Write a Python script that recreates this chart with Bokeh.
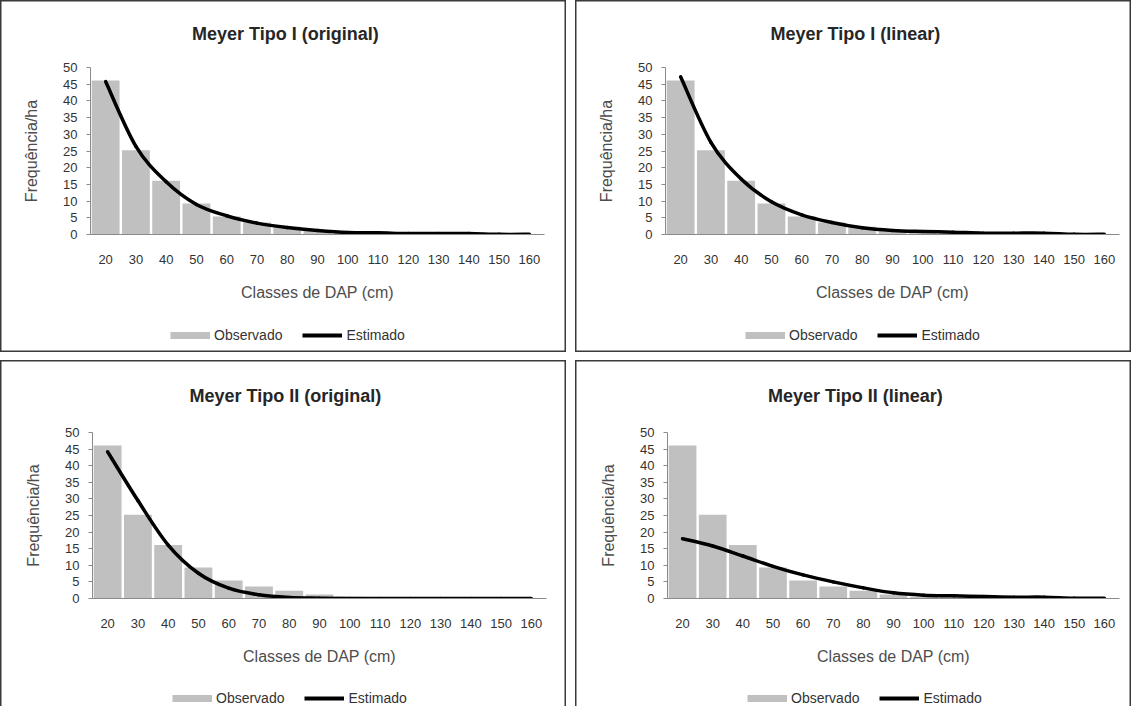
import numpy as np
from bokeh.plotting import figure
from bokeh.models import (FactorRange, Range1d, SingleIntervalTicker, Legend,
                          LegendItem)
from bokeh.layouts import column, row
from bokeh.embed import file_html
from bokeh.resources import INLINE

# ---------------- data ----------------
classes = ["20", "30", "40", "50", "60", "70", "80", "90", "100",
           "110", "120", "130", "140", "150", "160"]
observado = [46.1, 25.2, 16.1, 9.3, 5.4, 3.6, 2.3, 1.2, 0.5,
             0.4, 0.2, 0.2, 0.2, 0.1, 0.1]
est_tipo1_original = [45.8, 26.4, 15.8, 9.0, 5.6, 3.4, 2.1, 1.2, 0.6,
                      0.5, 0.3, 0.3, 0.3, 0.05, 0.05]
est_tipo1_linear = [47.2, 27.6, 16.6, 9.8, 5.9, 3.6, 2.0, 1.2, 0.9,
                    0.7, 0.4, 0.4, 0.4, 0.05, 0.05]
est_tipo2_original = [44.2, 29.5, 16.1, 7.6, 3.1, 1.1, 0.3, 0.1, 0.0,
                      0.0, 0.0, 0.0, 0.0, 0.0, 0.0]
est_tipo2_linear = [18.0, 15.8, 12.8, 9.7, 7.1, 5.0, 3.2, 1.7, 1.0,
                    0.8, 0.6, 0.4, 0.4, 0.1, 0.1]
titles = ["Meyer  Tipo I (original)", "Meyer  Tipo I (linear)",
          "Meyer  Tipo II (original)", "Meyer  Tipo II (linear)"]
y_ticks_interval = 5
y_max = 50
x_title = "Classes de DAP (cm)"
y_title = "Frequência/ha"
legend_labels = ["Observado", "Estimado"]

FONT = "Liberation Sans"
BAR = "#c0c0c0"
AXIS = "#8a8a8a"
TXT = "#333333"
TITLE_PX = 18

# approximate advance widths of Arial/Liberation Sans Bold (per 1000 em)
BOLD_W = {" ": 278, "(": 333, ")": 333, "I": 278, "M": 833, "T": 611, "a": 556,
          "e": 556, "g": 611, "i": 278, "l": 278, "n": 611, "o": 611, "p": 611,
          "r": 389, "y": 556}


def text_width(s, px):
    return sum(BOLD_W.get(c, 600) for c in " ".join(s.split())) / 1000 * px


def smooth_segments(vals):
    """Bezier segments (Catmull-Rom style, like a spreadsheet's smoothed line)."""
    n = len(vals)
    xs = [i + 0.5 for i in range(n)]
    seg = dict(x0=[], y0=[], x1=[], y1=[], cx0=[], cy0=[], cx1=[], cy1=[])
    for i in range(n - 1):
        a, b = max(i - 1, 0), min(i + 2, n - 1)
        seg["x0"].append(xs[i]); seg["y0"].append(vals[i])
        seg["x1"].append(xs[i + 1]); seg["y1"].append(vals[i + 1])
        seg["cx0"].append(xs[i] + (xs[i + 1] - xs[a]) / 6)
        seg["cy0"].append(vals[i] + (vals[i + 1] - vals[a]) / 6)
        seg["cx1"].append(xs[i + 1] - (xs[b] - xs[i]) / 6)
        seg["cy1"].append(vals[i + 1] - (vals[b] - vals[i]) / 6)
    return seg


def panel(title, est, W, H, L, FW, T, FH, legend_gap, bottom_row):
    HM = T + FH + 80           # main chart height
    HL = H - HM                # legend strip height
    p = figure(width=W, height=HM, x_range=FactorRange(*classes, range_padding=0),
               y_range=Range1d(0, y_max), output_backend="svg",
               toolbar_location=None, min_border_left=L,
               min_border_right=W - L - FW, min_border_top=T,
               min_border_bottom=HM - T - FH)
    p.border_fill_color = None
    p.background_fill_color = None
    p.outline_line_color = None
    p.xgrid.visible = False
    p.ygrid.visible = False

    # title, centred on the whole panel
    p.title.text = title
    p.title.align = "left"
    p.title.vertical_align = "top"
    p.title.offset = (W / 2 - L + 2) - text_width(title, TITLE_PX) / 2
    p.title.standoff = T - 23
    p.title.text_font = FONT
    p.title.text_font_size = f"{TITLE_PX}px"
    p.title.text_font_style = "bold"
    p.title.text_color = "#262626"

    p.vbar(x=classes, top=observado, width=0.92, fill_color=BAR, line_color=None)
    seg = smooth_segments(est)
    p.bezier(x0="x0", y0="y0", x1="x1", y1="y1", cx0="cx0", cy0="cy0",
             cx1="cx1", cy1="cy1", source=seg, line_color="black",
             line_width=3.5, line_cap="round")

    # axes
    xa = p.xaxis[0]
    xa.axis_line_color = AXIS
    xa.major_tick_line_color = None
    xa.minor_tick_line_color = None
    xa.major_label_standoff = 14
    xa.major_label_text_font = FONT
    xa.major_label_text_font_size = "13px"
    xa.major_label_text_color = TXT
    xa.axis_label = x_title
    xa.axis_label_text_font = FONT
    xa.axis_label_text_font_size = "16px"
    xa.axis_label_text_font_style = "normal"
    xa.axis_label_text_color = "#4d4d4d"
    xa.axis_label_standoff = 17

    ya = p.yaxis[0]
    ya.ticker = SingleIntervalTicker(interval=y_ticks_interval, num_minor_ticks=0)
    ya.axis_line_color = AXIS
    ya.major_tick_line_color = AXIS
    ya.major_tick_out = 4
    ya.major_tick_in = 0
    ya.minor_tick_line_color = None
    ya.major_label_standoff = 9
    ya.major_label_text_font = FONT
    ya.major_label_text_font_size = "13px"
    ya.major_label_text_color = TXT
    ya.axis_label = y_title
    ya.axis_label_text_font = FONT
    ya.axis_label_text_font_size = "16px"
    ya.axis_label_text_font_style = "normal"
    ya.axis_label_text_color = "#4d4d4d"
    ya.axis_label_standoff = 20

    # legend strip (its own small canvas under the chart; frame aligned with chart)
    q = figure(width=W, height=HL, x_range=Range1d(0, 1), y_range=Range1d(0, 1),
               output_backend="svg", toolbar_location=None, min_border=0)
    q.border_fill_color = None
    q.background_fill_color = None
    q.outline_line_color = None
    q.axis.visible = False
    q.grid.visible = False
    nan = np.array([np.nan])
    r_obs = q.line(x=nan, y=nan, line_color=BAR, line_width=7)
    r_est = q.line(x=nan, y=nan, line_color="black", line_width=4)
    leg = Legend(items=[LegendItem(label=legend_labels[0], renderers=[r_obs]),
                        LegendItem(label=legend_labels[1], renderers=[r_est])],
                 orientation="horizontal",
                 location=(80, HL - (legend_gap - 80) - 8),
                 padding=0, margin=0, spacing=20, label_standoff=4,
                 glyph_width=40, glyph_height=16, label_height=16,
                 label_text_font=FONT, label_text_font_size="14px",
                 label_text_color=TXT, border_line_color=None,
                 background_fill_color=None)
    q.add_layout(leg)

    if bottom_row:
        shadow = ("inset 1.5px 0 0 0 #3a3a3a, inset -1.5px 0 0 0 #3a3a3a, "
                  "inset 0 1.5px 0 0 #3a3a3a")
    else:
        shadow = "inset 0 0 0 1.5px #3a3a3a"
    box = column(p, q, spacing=0, width=W, height=H)
    box.styles = {"box-shadow": shadow, "background": "white"}
    return box


p1 = panel(titles[0], est_tipo1_original, 566, 352, 90, 454, 67, 167, 101, False)
p2 = panel(titles[1], est_tipo1_linear, 556, 352, 90, 454, 67, 167, 101, False)
p3 = panel(titles[2], est_tipo2_original, 566, 346, 92, 454, 72, 166, 100, True)
p4 = panel(titles[3], est_tipo2_linear, 556, 346, 92, 452, 72, 166, 100, True)

layout = column(row(p1, p2, spacing=9), row(p3, p4, spacing=9), spacing=8)

open("out.html", "w").write(file_html(layout, INLINE))
